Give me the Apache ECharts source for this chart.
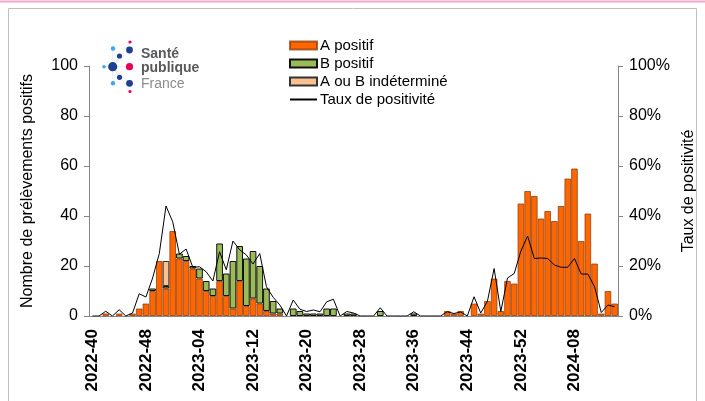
<!DOCTYPE html>
<html lang="fr">
<head>
<meta charset="utf-8">
<title>Grippe - prélèvements positifs</title>
<script src="https://cdn.jsdelivr.net/npm/echarts@6/dist/echarts.min.js"></script>
<style>
  html, body { margin: 0; padding: 0; background: #fff; }
  #chart { width: 705px; height: 401px; }
</style>
</head>
<body>
<div id="chart"></div>
<script>
// semaines ISO (2022-40 -> 2024-14)
const weeks = [
  '2022-40', '2022-41', '2022-42', '2022-43', '2022-44', '2022-45', '2022-46', '2022-47',
  '2022-48', '2022-49', '2022-50', '2022-51', '2022-52', '2023-01', '2023-02', '2023-03',
  '2023-04', '2023-05', '2023-06', '2023-07', '2023-08', '2023-09', '2023-10', '2023-11',
  '2023-12', '2023-13', '2023-14', '2023-15', '2023-16', '2023-17', '2023-18', '2023-19',
  '2023-20', '2023-21', '2023-22', '2023-23', '2023-24', '2023-25', '2023-26', '2023-27',
  '2023-28', '2023-29', '2023-30', '2023-31', '2023-32', '2023-33', '2023-34', '2023-35',
  '2023-36', '2023-37', '2023-38', '2023-39', '2023-40', '2023-41', '2023-42', '2023-43',
  '2023-44', '2023-45', '2023-46', '2023-47', '2023-48', '2023-49', '2023-50', '2023-51',
  '2023-52', '2024-01', '2024-02', '2024-03', '2024-04', '2024-05', '2024-06', '2024-07',
  '2024-08', '2024-09', '2024-10', '2024-11', '2024-12', '2024-13', '2024-14'
]

// nombre de prélèvements positifs
const aPositif = [
  0, 0, 1, 0, 1, 0, 1, 3, 5, 10, 22, 11, 34, 23, 22, 19,
  15, 10, 8, 14, 8, 3, 14, 4, 7, 5, 2, 1, 1, 0, 0, 0,
  0, 0, 0, 0, 0, 0, 0, 0, 0, 0, 0, 0, 0, 0, 0, 0,
  0, 0, 0, 0, 0, 2, 1, 2, 0, 5, 1, 6, 15, 2, 14, 13,
  45, 50, 48, 39, 42, 38, 44, 55, 59, 30, 41, 21, 1, 10, 5
]
const bPositif = [
  0, 0, 0, 0, 0, 0, 0, 0, 0, 1, 0, 1, 0, 2, 2, 1,
  4, 4, 3, 15, 9, 19, 14, 19, 19, 15, 9, 5, 2, 0, 3, 2,
  1, 1, 1, 3, 3, 0, 1, 1, 0, 0, 0, 2, 0, 0, 0, 0,
  1, 0, 0, 0, 0, 0, 0, 0, 0, 0, 0, 0, 0, 0, 0, 0,
  0, 0, 0, 0, 0, 0, 0, 0, 0, 0, 0, 0, 0, 0, 0
]
const indetermine = [
  0, 0, 0, 0, 0, 0, 0, 0, 0, 0, 0, 10, 0, 0, 0, 0,
  0, 0, 0, 0, 0, 0, 0, 0, 0, 0, 0, 0, 0, 0, 0, 0,
  0, 0, 0, 0, 0, 0, 0, 0, 0, 0, 0, 0, 0, 0, 0, 0,
  0, 0, 0, 0, 0, 0, 0, 0, 0, 0, 0, 0, 0, 0, 0, 0,
  0, 0, 0, 0, 0, 0, 0, 0, 0, 0, 0, 0, 0, 0, 0
]

// taux de positivité (%)
const tauxPositivite = [
  0, 0, 1.9, 0, 2.5, 0, 1.2, 8.9, 7.6, 15.2, 25, 44, 37.7, 24.7, 26.8, 19.5,
  19.7, 17.7, 14, 25.7, 18.5, 30, 26.5, 24.4, 20.8, 25, 11.7, 7.5, 4.4, 0, 6.4, 2.7,
  1.8, 2.4, 1.7, 5.7, 6.7, 0, 1.8, 1.2, 0, 0, 0, 3.3, 0, 0, 0, 0,
  1.7, 0, 0, 0, 0, 1.7, 1, 1.6, 0, 7.7, 1.2, 5.9, 19, 1.8, 15.2, 17,
  26, 32, 23, 23.2, 23, 20.4, 19.5, 19.5, 23, 16.8, 16.8, 11.7, 1.4, 4.4, 3.7
]

const leftTicks = [0, 20, 40, 60, 80, 100]
const rightTicks = ['0%', '20%', '40%', '60%', '80%', '100%']

const font = 'Arial, "Liberation Sans", sans-serif'
const axisColor = '#868686'

// les zéros ne doivent pas dessiner de bordure
const noZero = arr => arr.map(v => (v === 0 ? null : v))

const chart = echarts.init(document.getElementById('chart'), null, { renderer: 'canvas' })

// petit logo Santé publique France
const logoDots = [
  { x: 130, y: 42, r: 1.6, c: '#e6005c' },
  { x: 113, y: 48.5, r: 2.2, c: '#3fa9e0' },
  { x: 129.5, y: 50, r: 3.4, c: '#1f3f8f' },
  { x: 119.5, y: 56, r: 2.6, c: '#1f3f8f' },
  { x: 104, y: 66.7, r: 1.8, c: '#3fa9e0' },
  { x: 112.7, y: 66.7, r: 4.6, c: '#1f3f8f' },
  { x: 129.5, y: 66.7, r: 3.6, c: '#e6005c' },
  { x: 119.5, y: 77.3, r: 2.6, c: '#1f3f8f' },
  { x: 113, y: 83.3, r: 2.2, c: '#3fa9e0' },
  { x: 129.5, y: 83.3, r: 3.4, c: '#1f3f8f' },
  { x: 130, y: 91.5, r: 1.6, c: '#e6005c' }
]

const option = {
  animation: false,
  textStyle: { fontFamily: font },
  grid: { left: 89, right: 87, top: 66, bottom: 85 },
  legend: {
    orient: 'vertical',
    left: 284,
    top: 32,
    itemWidth: 27,
    itemHeight: 8,
    itemGap: 1,
    textStyle: { fontSize: 15, color: '#000', fontFamily: font, lineHeight: 17, padding: [0, 0, 0, -2] },
    data: [
      { name: 'A positif', icon: 'rect' },
      { name: 'B positif', icon: 'rect' },
      { name: 'A ou B indéterminé', icon: 'rect' },
      // seulement le trait, sans le rond
      { name: 'Taux de positivité', itemStyle: { opacity: 0 } }
    ]
  },
  xAxis: {
    type: 'category',
    data: weeks,
    boundaryGap: true,
    axisLine: { lineStyle: { color: axisColor, width: 1 } },
    axisTick: { interval: 7, length: 5, lineStyle: { color: axisColor } },
    axisLabel: {
      interval: 7,
      rotate: 90,
      margin: 13,
      fontSize: 17,
      fontWeight: 'bold',
      color: '#000'
    }
  },
  yAxis: [
    {
      type: 'value',
      min: 0,
      max: 100,
      interval: 20,
      name: 'Nombre de prélèvements positifs',
      nameLocation: 'middle',
      nameGap: 53,
      nameTextStyle: { fontSize: 16, color: '#000' },
      axisLine: { show: true, lineStyle: { color: axisColor } },
      axisTick: { show: true, length: 5, lineStyle: { color: axisColor } },
      axisLabel: {
        fontSize: 16,
        color: '#000',
        margin: 11,
        formatter: v => String(leftTicks[leftTicks.indexOf(v)])
      },
      splitLine: { show: false }
    },
    {
      type: 'value',
      min: 0,
      max: 100,
      interval: 20,
      position: 'right',
      name: 'Taux de positivité',
      nameLocation: 'middle',
      nameGap: 62,
      nameTextStyle: { fontSize: 16, color: '#000' },
      axisLine: { show: true, lineStyle: { color: axisColor } },
      axisTick: { show: true, length: 5, lineStyle: { color: axisColor } },
      axisLabel: {
        fontSize: 16,
        color: '#000',
        margin: 11,
        formatter: v => rightTicks[leftTicks.indexOf(v)]
      },
      splitLine: { show: false }
    }
  ],
  series: [
    {
      name: 'A positif',
      type: 'bar',
      stack: 'prelev',
      barCategoryGap: '0%',
      data: noZero(aPositif),
      itemStyle: { color: '#ff6600', borderColor: 'rgba(140,60,10,0.75)', borderWidth: 1 }
    },
    {
      name: 'B positif',
      type: 'bar',
      stack: 'prelev',
      data: noZero(bPositif),
      itemStyle: { color: '#9bbb59', borderColor: '#111', borderWidth: 1 }
    },
    {
      name: 'A ou B indéterminé',
      type: 'bar',
      stack: 'prelev',
      data: noZero(indetermine),
      itemStyle: { color: '#fac090', borderColor: '#333', borderWidth: 1 }
    },
    {
      name: 'Taux de positivité',
      type: 'line',
      yAxisIndex: 1,
      data: tauxPositivite,
      symbol: 'none',
      z: 5,
      lineStyle: { color: '#000', width: 1 },
      itemStyle: { color: '#000' }
    }
  ],
  graphic: [
    // cadre
    {
      type: 'rect',
      shape: { x: 8.5, y: 8.5, width: 688, height: 400 },
      style: { fill: null, stroke: '#bfbfbf', lineWidth: 1 },
      silent: true
    },
    {
      type: 'line',
      shape: { x1: 0, y1: 1.5, x2: 705, y2: 1.5 },
      style: { stroke: '#f2a7c9', lineWidth: 2 },
      silent: true
    },
    // logo
    ...logoDots.map(d => ({
      type: 'line',
      shape: { x1: 112.7, y1: 66.7, x2: d.x, y2: d.y },
      style: { stroke: '#d6dbe8', lineWidth: 0.6 },
      silent: true
    })),
    ...logoDots.map(d => ({
      type: 'circle',
      shape: { cx: d.x, cy: d.y, r: d.r },
      style: { fill: d.c },
      silent: true
    })),
    {
      type: 'text',
      left: 141,
      top: 47,
      style: { text: 'Santé', font: 'bold 14px ' + font, fill: '#58595b' }
    },
    {
      type: 'text',
      left: 141,
      top: 61,
      style: { text: 'publique', font: 'bold 14px ' + font, fill: '#58595b' }
    },
    {
      type: 'text',
      left: 141,
      top: 77,
      style: { text: 'France', font: '14px ' + font, fill: '#8c8c8c' }
    }
  ]
}

chart.setOption(option)
</script>
</body>
</html>
